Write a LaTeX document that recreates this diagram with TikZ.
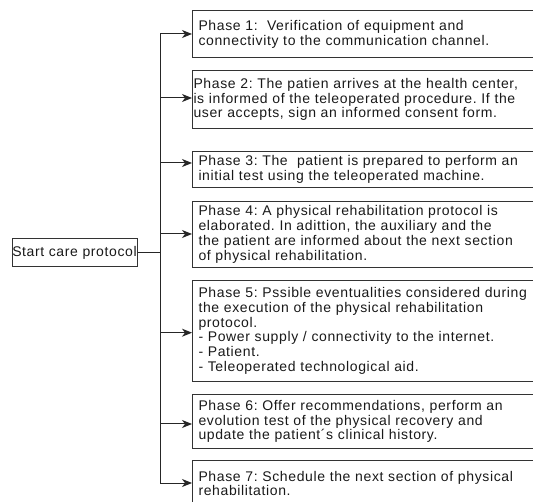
\documentclass[tikz,border=0pt]{standalone}
\usepackage{fontspec}
\usetikzlibrary{arrows.meta}
\newfontfamily\boxfont{Liberation Sans}[LetterSpace=4.5]
\begin{document}
\frenchspacing
\begin{tikzpicture}[x=1pt,y=-1pt,
  every node/.style={font=\boxfont\fontsize{14}{14.8}\selectfont, text=black!90},
  edge/.style={draw=black!85, line width=1pt},
  frame/.style={draw=black!80, line width=1pt},
  phasebox/.style={frame, anchor=north west, text width=370pt, align=left,
    inner xsep=6pt, inner ysep=0pt},
  arr/.style={edge, -{Stealth[length=10pt,width=8pt,inset=3pt]}}]
\useasboundingbox (0,0) rectangle (533,502);
\clip (0,0) rectangle (533,502);

% start node
\node[frame, minimum width=125pt, minimum height=28pt, inner sep=0pt] (start) at (74.5,253)
  {Start care protocol};

% phase boxes
\node[phasebox, minimum height=47pt] (p1) at (192,10)
  {Phase 1:\ \ Verification of equipment and\\connectivity to the communication channel.};
\node[phasebox, minimum height=58pt, inner xsep=1pt, text width=380pt] (p2) at (192,70)
  {Phase 2: The patien arrives at the health center,\\is informed of the teleoperated procedure. If the\\user accepts, sign an informed consent form.};
\node[phasebox, minimum height=36pt] (p3) at (192,151)
  {Phase 3: The\ \ patient is prepared to perform an\\initial test using the teleoperated machine.};
\node[phasebox, minimum height=66pt] (p4) at (192,200.7)
  {Phase 4: A physical rehabilitation protocol is\\elaborated. In adittion, the auxiliary and the\\the patient are informed about the next section\\of physical rehabilitation.};
\node[phasebox, minimum height=100.7pt] (p5) at (192,280)
  {Phase 5: Pssible eventualities considered during\\the execution of the physical rehabilitation\\protocol.\\- Power supply / connectivity to the internet.\\- Patient.\\- Teleoperated technological aid.};
\node[phasebox, minimum height=54pt] (p6) at (192,394)
  {Phase 6: Offer recommendations, perform an\\evolution test of the physical recovery and\\update the patient´s clinical history.};
\node[phasebox, minimum height=46pt] (p7) at (192,460)
  {Phase 7: Schedule the next section of physical\\rehabilitation.};

% branch points on the trunk
\coordinate (b1) at (160,34);
\coordinate (b2) at (160,98);
\coordinate (b3) at (160,163);
\coordinate (b4) at (160,234);
\coordinate (b5) at (160,332.7);
\coordinate (b6) at (160,424);
\coordinate (b7) at (160,483);

\draw[edge] (b1) -- (b7);
\draw[edge] (start.east) -- (start.east -| b1);
\foreach \i in {1,...,7}
  \draw[arr] (b\i) -- (b\i -| p\i.west);
\end{tikzpicture}
\end{document}
